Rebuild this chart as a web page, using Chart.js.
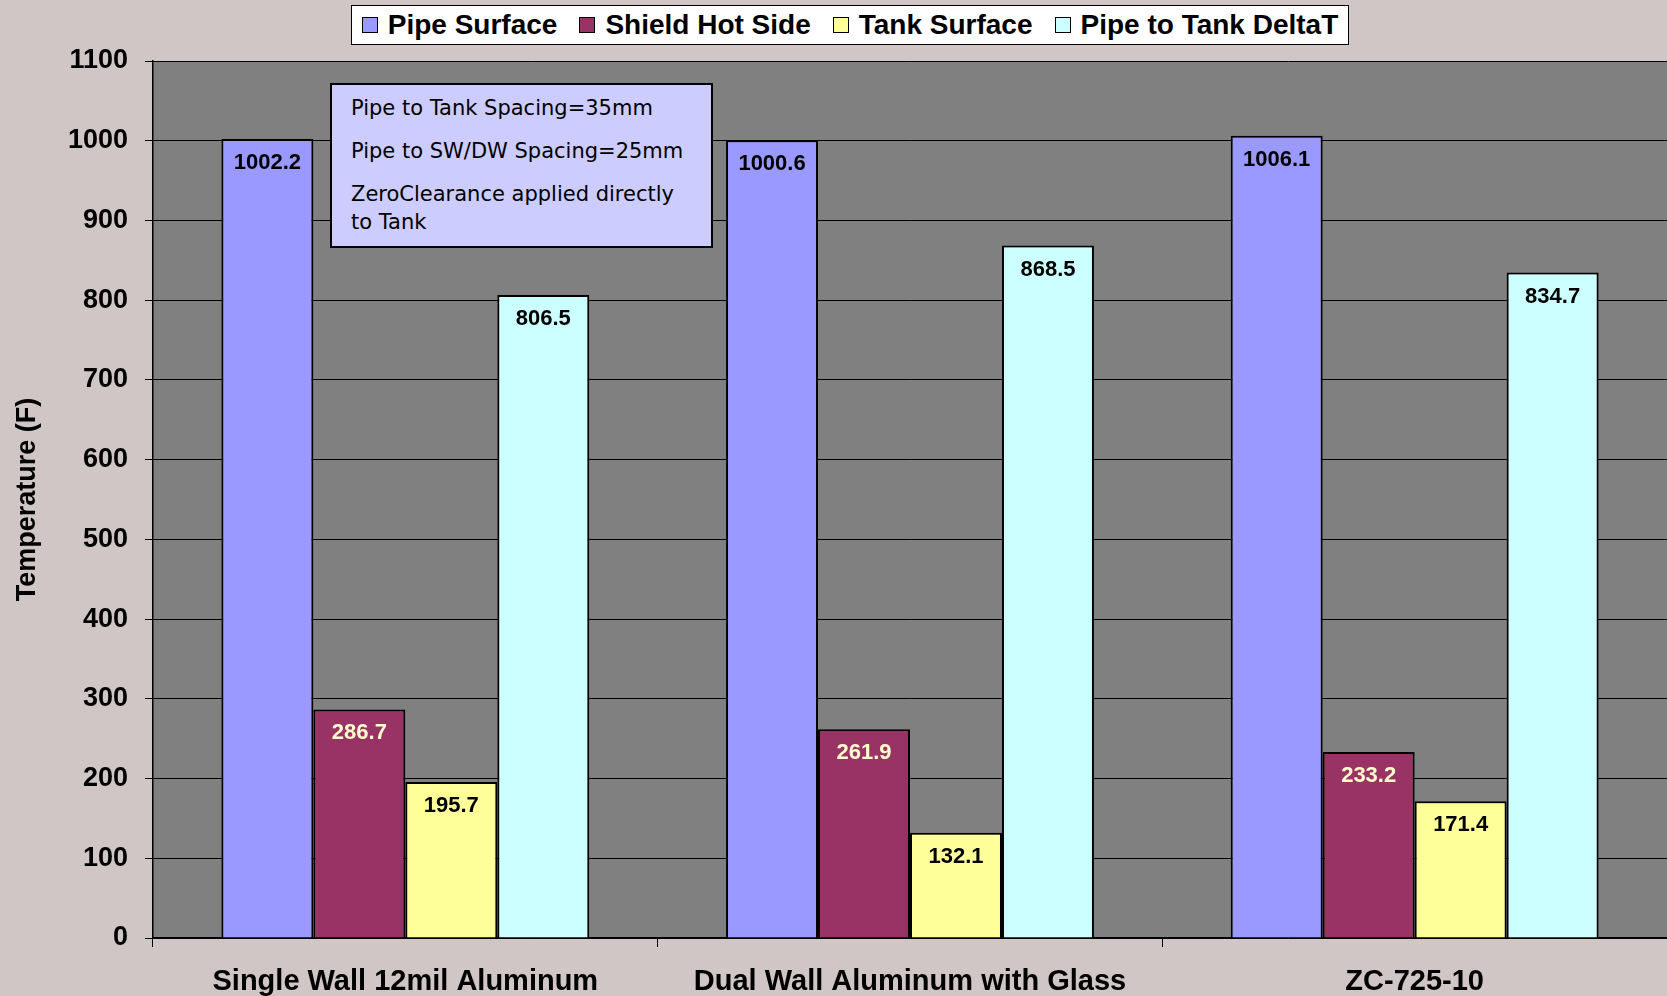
<!DOCTYPE html>
<html>
<head>
<meta charset="utf-8">
<script src="https://cdn.jsdelivr.net/npm/chart.js@4.4.1/dist/chart.umd.min.js"></script>
<style>
    html, body { margin: 0; padding: 0; background: #cfc6c5; }
    #wrap { position: relative; width: 1667px; height: 996px; }
    #legend {
        position: absolute; left: 351px; top: 5px; width: 996px; height: 38px;
        background: #fff; border: 1px solid #000;
        display: flex; align-items: center; justify-content: center; gap: 22px;
        font: bold 28px "Liberation Sans", Arial, sans-serif; color: #000;
    }
    #legend .item { display: flex; align-items: center; white-space: nowrap; }
    #legend .sw { width: 14px; height: 14px; border: 1px solid #000; margin-right: 10px; }
    #note {
        position: absolute; left: 330px; top: 83px; width: 360px; height: 152px;
        background: #ccccff; border: 2px solid #000; padding: 9px 0 0 19px;
        font: 21px "DejaVu Sans", Verdana, sans-serif; line-height: 28px; color: #000;
    }
    #note div { margin-bottom: 15px; }
</style>
</head>
<body>
<div id="wrap">
    <canvas id="chart" width="1667" height="996"></canvas>
    <div id="legend"></div>
    <div id="note">
        <div>Pipe to Tank Spacing=35mm</div>
        <div>Pipe to SW/DW Spacing=25mm</div>
        <div>ZeroClearance applied directly<br>to Tank</div>
    </div>
</div>
<script>
const categories = ['Single Wall 12mil Aluminum', 'Dual Wall Aluminum with Glass', 'ZC-725-10'];
const seriesNames = ['Pipe Surface', 'Shield Hot Side', 'Tank Surface', 'Pipe to Tank DeltaT'];
const pipeSurface = [1002.2, 1000.6, 1006.1];
const shieldHotSide = [286.7, 261.9, 233.2];
const tankSurface = [195.7, 132.1, 171.4];
const pipeToTankDeltaT = [806.5, 868.5, 834.7];
const yMin = 0, yMax = 1100, yStep = 100;

const colors = ['#9999ff', '#993366', '#ffff99', '#ccffff'];
const labelColors = ['#000', '#ffffcc', '#000', '#000'];
const allSeries = [pipeSurface, shieldHotSide, tankSurface, pipeToTankDeltaT];

// html legend
const legend = document.getElementById('legend');
seriesNames.forEach((name, i) => {
    const item = document.createElement('div');
    item.className = 'item';
    item.innerHTML = `<span class="sw" style="background:${colors[i]}"></span>${name}`;
    legend.appendChild(item);
});

const plotBg = {
    id: 'plotBg',
    beforeDraw(chart) {
        const { ctx, chartArea: a } = chart;
        ctx.save();
        ctx.fillStyle = '#808080';
        ctx.fillRect(a.left, a.top, a.right - a.left, a.bottom - a.top);
        ctx.restore();
    }
};

const barLabels = {
    id: 'barLabels',
    afterDatasetsDraw(chart) {
        const ctx = chart.ctx;
        ctx.save();
        ctx.font = 'bold 22px "Liberation Sans", Arial, sans-serif';
        ctx.textAlign = 'center';
        ctx.textBaseline = 'middle';
        chart.data.datasets.forEach((ds, i) => {
            ctx.fillStyle = labelColors[i];
            chart.getDatasetMeta(i).data.forEach((bar, j) => {
                ctx.fillText(ds.data[j].toFixed(1), bar.x, bar.y + 24);
            });
        });
        ctx.restore();
    }
};

const tickFont = { family: '"Liberation Sans", Arial, sans-serif', size: 27, weight: 'bold' };

new Chart(document.getElementById('chart'), {
    type: 'bar',
    data: {
        labels: categories,
        datasets: allSeries.map((d, i) => ({
            label: seriesNames[i],
            data: d,
            backgroundColor: colors[i],
            borderColor: '#000',
            borderWidth: 2,
            borderSkipped: 'start',
            categoryPercentage: 0.729,
            barPercentage: 1
        }))
    },
    options: {
        responsive: false,
        animation: false,
        layout: { padding: { top: 61, right: 0, left: 0, bottom: 0 } },
        plugins: { legend: { display: false }, tooltip: { enabled: false } },
        scales: {
            x: {
                afterFit: s => { s.height = 58; },
                grid: { offset: true, drawOnChartArea: false, color: '#000', tickLength: 9 },
                border: { color: '#000', width: 1.5 },
                ticks: { color: '#000', font: { ...tickFont, size: 29 }, padding: 18, maxRotation: 0 }
            },
            y: {
                min: yMin, max: yMax,
                afterFit: s => { s.width = 153; },
                grid: { color: '#000', tickLength: 8 },
                border: { color: '#000', width: 1.5 },
                ticks: { stepSize: yStep, color: '#000', font: tickFont, padding: 17, callback: v => String(v) },
                title: {
                    display: true, text: 'Temperature (F)', color: '#000',
                    font: tickFont, padding: { top: 11, bottom: 0 }
                }
            }
        }
    },
    plugins: [plotBg, barLabels]
});
</script>
</body>
</html>
